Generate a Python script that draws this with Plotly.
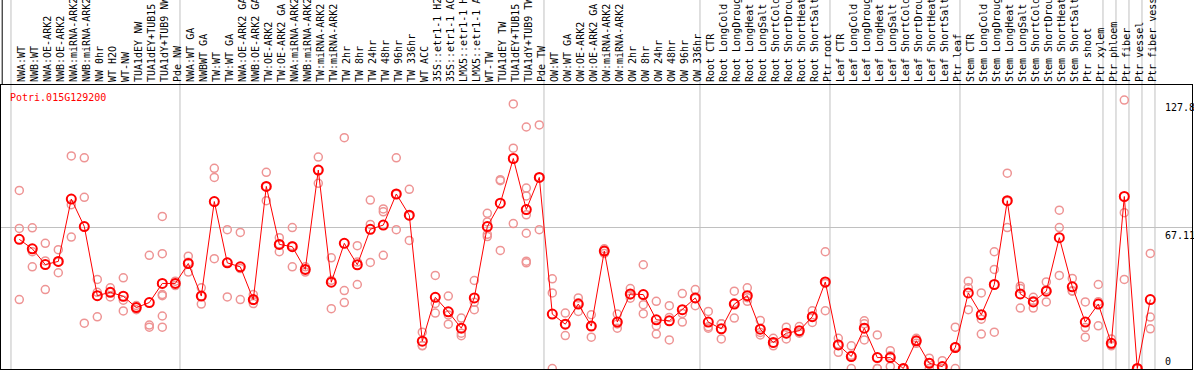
import plotly.graph_objects as go

categories = [
    "NWA:WT", "NWB:WT", "NWA:OE-ARK2", "NWB:OE-ARK2", "NWA:miRNA-ARK2", "NWB:miRNA-ARK2",
    "NW 0hr", "WT H2O", "WT-NW", "TUA1dEY NW", "TUA1dEY+TUB15 NW", "TUA1dY+TUB9 NW", "Pde NW",
    "NWA:WT GA", "NWBWT GA", "TW:WT", "TW:WT GA", "NWA:OE-ARK2 GA", "NWB:OE-ARK2 GA",
    "TW:OE-ARK2", "TW:OE-ARK2 GA", "NWA:miRNA-ARK2 GA", "NWB:miRNA-ARK2 GA", "TW:miRNA-ARK2",
    "TW:miRNA-ARK2 GA", "TW 2hr", "TW 8hr", "TW 24hr", "TW 48hr", "TW 96hr", "TW 336hr",
    "WT ACC", "35S::etr1-1 H2O", "35S::etr1-1 ACC", "LMX5::etr1-1 H2O", "LMX5::etr1-1 ACC",
    "WT-TW", "TUA1dEY TW", "TUA1dEY+TUB15 TW", "TUA1dY+TUB9 TW", "Pde TW",
    "OW:WT", "OW:WT GA", "OW:OE-ARK2", "OW:OE-ARK2 GA", "OW:miRNA-ARK2", "OW:miRNA-ARK2 GA",
    "OW 2hr", "OW 8hr", "OW 24hr", "OW 48hr", "OW 96hr", "OW 336hr",
    "Root CTR", "Root LongCold", "Root LongDrought", "Root LongHeat", "Root LongSalt",
    "Root ShortCold", "Root ShortDrought", "Root ShortHeat", "Root ShortSalt", "Ptr root",
    "Leaf CTR", "Leaf LongCold", "Leaf LongDrought", "Leaf LongHeat", "Leaf LongSalt",
    "Leaf ShortCold", "Leaf ShortDrought", "Leaf ShortHeat", "Leaf ShortSalt", "Ptr leaf",
    "Stem CTR", "Stem LongCold", "Stem LongDrought", "Stem LongHeat", "Stem LongSalt",
    "Stem ShortCold", "Stem ShortDrought", "Stem ShortHeat", "Stem ShortSalt", "Ptr shoot",
    "Ptr xylem", "Ptr phloem", "Ptr fiber", "Ptr vessel", "Ptr fiber vessel",
]

means = [
    61.5, 57.0, 49.5, 51.0, 80.7, 67.6, 34.7, 36.3, 34.4, 29.0, 31.4, 40.5, 40.5,
    50.0, 34.5, 79.5, 50.3, 48.4, 32.8, 86.7, 59.1, 58.0, 47.2, 94.5, 41.1, 59.6, 49.4,
    66.3, 68.3, 83.1, 73.0, 13.0, 33.9, 27.0, 19.2, 33.6, 67.6, 78.7, 100.0, 75.7, 91.0,
    25.9, 21.1, 30.7, 20.2, 55.9, 22.1, 35.5, 35.2, 23.2, 22.7, 28.0, 33.6,
    22.1, 18.9, 30.7, 34.7, 18.7, 12.4, 16.8, 18.0, 24.7, 41.2,
    11.2, 5.7, 19.2, 5.2, 5.2, 0.0, 13.2, 2.5, 0.9, 10.0,
    36.0, 25.6, 40.0, 79.9, 35.5, 31.7, 36.8, 62.3, 38.9, 22.1, 30.7,
    12.0, 81.9, 0.0, 32.8,
]

replicates = [
    [84.8, 66.7, 32.8], [67.0, 55.6, 48.4], [59.6, 51.2, 37.6], [56.6, 50.8, 45.6],
    [101.2, 78.0, 62.6], [100.3, 81.5, 21.6], [42.4, 36.3, 24.6], [38.4, 36.3, 34.1],
    [43.2, 32.5, 27.4], [30.0, 29.0, 28.0], [53.9, 20.7, 19.7],
    [72.4, 54.7, 35.2, 34.7, 25.0, 19.7], [41.6, 40.5, 39.5],
    [53.5, 50.6, 45.9], [38.4, 34.5, 30.7], [95.3, 91.0, 52.3], [66.1, 50.6, 34.1],
    [64.8, 47.6, 32.8], [35.2, 32.4, 30.9], [93.4, 86.7, 79.9], [62.3, 59.3, 55.6],
    [67.1, 58.5, 48.4], [48.4, 47.2, 45.9], [100.7, 94.5, 88.2], [52.7, 42.0, 28.5],
    [109.9, 37.1, 31.4], [58.5, 50.7, 40.0], [80.2, 68.6, 50.5], [76.0, 74.6, 53.9],
    [100.3, 83.0, 66.1], [85.3, 72.7, 61.0], [17.3, 11.0, 10.8], [44.3, 31.0, 26.4],
    [34.5, 25.5, 21.1], [24.0, 16.8, 15.6], [41.9, 31.5, 28.0], [73.9, 69.8, 63.9, 62.8],
    [89.9, 89.4, 56.2], [126.0, 104.9, 69.0], [115.0, 85.9, 82.2, 73.2, 64.4, 51.1, 50.3],
    [116.0, 91.0, 66.1],
    [42.7, 36.0, 0.0], [26.4, 21.1, 15.7], [33.6, 31.3, 27.2], [25.6, 20.1, 14.9],
    [57.0, 55.9, 54.8], [25.9, 21.2, 19.2], [38.1, 35.0, 33.5], [49.4, 30.4, 26.1],
    [32.0, 20.3, 16.4], [29.9, 24.3, 13.6], [35.7, 26.2, 22.1], [37.6, 33.3, 29.9],
    [27.2, 19.9, 19.2], [21.3, 21.3, 14.1], [36.8, 31.3, 24.0], [38.4, 33.7, 32.0],
    [22.9, 17.2, 16.0], [14.4, 12.0, 10.8], [19.7, 16.6, 14.1], [20.0, 17.2, 16.8],
    [27.5, 24.7, 21.9], [55.6, 40.5, 27.5],
    [14.4, 11.5, 7.7], [10.8, 6.3, 0.0], [22.7, 21.3, 13.6], [16.0, 0.0, 0.0],
    [8.5, 6.1, 1.0], [0.0, 0.0, 0.0], [14.4, 13.2, 12.0], [4.9, 2.6, 0.0],
    [3.7, 0.0, 0.0], [19.7, 10.3, 0.0],
    [41.6, 38.4, 28.0], [36.0, 23.5, 16.4], [55.6, 47.2, 17.3], [93.0, 79.6, 67.1],
    [39.2, 38.1, 28.8], [33.9, 32.3, 28.8], [41.2, 37.5, 31.7], [75.4, 67.1, 44.3],
    [42.9, 37.0, 36.8], [31.7, 19.5, 14.9], [40.0, 31.8, 20.3],
    [14.1, 11.1, 10.8], [127.8, 74.2, 42.4], [0.0, 0.0, 0.0], [54.8, 24.5, 18.9],
]

group_starts = [0, 13, 41, 53, 63, 73, 84, 85, 86, 87, 88]
y_tick_values = [127.8, 67.11, 0]
y_tick_labels = ["127.8", "67.11", "0"]
gene_name = "Potri.015G129200"

MONO = "DejaVu Sans Mono"

rep_x, rep_y = [], []
for i, reps in enumerate(replicates):
    for v in reps:
        rep_x.append(i)
        rep_y.append(v)

fig = go.Figure()
fig.add_trace(go.Scatter(
    x=rep_x, y=rep_y, mode="markers",
    marker=dict(symbol="circle-open", size=8, color="#ee9494", line=dict(width=1.5)),
    hoverinfo="skip",
))
fig.add_trace(go.Scatter(
    x=list(range(len(categories))), y=means, mode="lines+markers",
    line=dict(color="#ff0000", width=1),
    marker=dict(symbol="circle-open", size=9, color="#ff0000", line=dict(width=2)),
))

shapes = []
for g in group_starts:
    shapes.append(dict(type="line", xref="x", yref="paper", x0=g - 0.64, x1=g - 0.64,
                       y0=0, y1=1.32, line=dict(color="#c0c0c0", width=1), layer="below"))
shapes.append(dict(type="line", xref="paper", yref="paper", x0=0.001, x1=0.001,
                   y0=1, y1=1.32, line=dict(color="black", width=1)))

annotations = [dict(
    text=gene_name, xref="paper", yref="paper", x=0, y=1, xanchor="left", yanchor="top",
    xshift=7, yshift=-5, showarrow=False, font=dict(family=MONO, size=10, color="#ff0000"),
)]
for v, t in zip(y_tick_values, y_tick_labels):
    annotations.append(dict(
        text=t, xref="x", yref="y", x=87.95, y=v, xanchor="left",
        yanchor="bottom" if v == 0 else "top", showarrow=False,
        font=dict(family=MONO, size=10, color="black"),
    ))

fig.update_layout(
    width=1194, height=370,
    margin=dict(l=1, r=2, t=85, b=1, pad=0),
    plot_bgcolor="white", paper_bgcolor="white",
    showlegend=False,
    shapes=shapes, annotations=annotations,
    xaxis=dict(
        range=[-1.408, 90.208], side="top", tickmode="array",
        tickvals=list(range(len(categories))), ticktext=categories,
        tickangle=-90, tickfont=dict(family=MONO, size=10, color="black"),
        ticklabelshift=2,
        ticks="", showgrid=False, zeroline=False, automargin=False,
        showline=True, mirror=True, linecolor="black", linewidth=1,
    ),
    yaxis=dict(
        range=[-0.24, 135.0], tickmode="array", tickvals=[67.11], showticklabels=False,
        showgrid=True, gridcolor="#c0c0c0", gridwidth=1, ticks="", zeroline=False,
        automargin=False, showline=True, mirror=True, linecolor="black", linewidth=1,
    ),
)

fig.write_html(
    "out.html",
    config={"displayModeBar": False},
    post_script="document.body.style.margin='0';document.body.style.overflow='hidden';",
)
